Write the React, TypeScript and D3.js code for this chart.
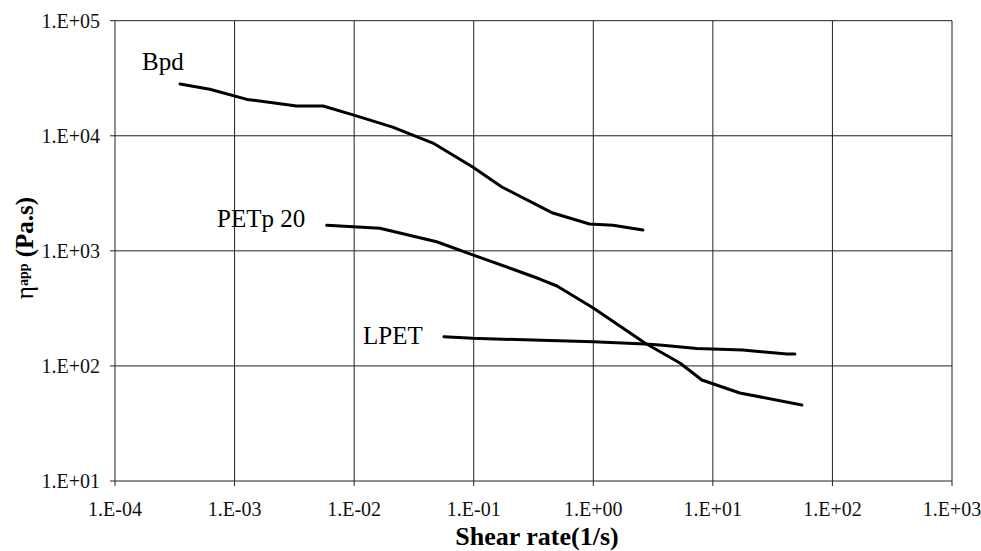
import React from "react";
import * as d3 from "d3";

const xTicks = [1e-4, 1e-3, 1e-2, 1e-1, 1e0, 1e1, 1e2, 1e3];
const xTickLabels = ["1.E-04", "1.E-03", "1.E-02", "1.E-01", "1.E+00", "1.E+01", "1.E+02", "1.E+03"];
const yTicks = [1e1, 1e2, 1e3, 1e4, 1e5];
const yTickLabels = ["1.E+01", "1.E+02", "1.E+03", "1.E+04", "1.E+05"];

const bpdX = [3.5e-4, 6.2e-4, 1.27e-3, 3.3e-3, 5.5e-3, 9.8e-3, 0.021, 0.0456, 0.098, 0.172, 0.459, 0.93, 1.46, 2.6];
const bpdY = [28200, 25400, 20700, 18150, 18150, 15200, 11900, 8650, 5350, 3590, 2130, 1710, 1667, 1518];

const petX = [5.9e-3, 0.0164, 0.049, 0.093, 0.213, 0.357, 0.497, 1.0, 2.7, 5.3, 8.1, 16.8, 55.5];
const petY = [1667, 1570, 1200, 940, 692, 569, 495, 319, 158, 106, 75.5, 58.2, 45.8];

const lpetX = [0.0564, 0.098, 0.434, 1.0, 2.7, 3.6, 7.35, 17.8, 41.6, 48.5];
const lpetY = [179.5, 174, 166, 162, 155, 152, 142, 137.5, 127, 127];

const seriesNames = ["Bpd", "PETp 20", "LPET"];

const W = 981;
const H = 551;
const left = 115;
const right = 952;
const top = 20.7;
const bottom = 481;

export default function App() {
  const x = d3.scaleLog().domain([1e-4, 1e3]).range([left, right]);
  const y = d3.scaleLog().domain([1e1, 1e5]).range([bottom, top]);
  const line = d3
    .line<[number, number]>()
    .x((d) => x(d[0]))
    .y((d) => y(d[1]))
    .curve(d3.curveLinear);

  const series = [
    { name: seriesNames[0], pts: bpdX.map((v, i) => [v, bpdY[i]] as [number, number]) },
    { name: seriesNames[1], pts: petX.map((v, i) => [v, petY[i]] as [number, number]) },
    { name: seriesNames[2], pts: lpetX.map((v, i) => [v, lpetY[i]] as [number, number]) },
  ];

  const labelPos = [
    { x: 142, y: 70 },
    { x: 217, y: 227 },
    { x: 363, y: 344 },
  ];

  const font = "'Liberation Serif', 'Times New Roman', serif";

  return (
    <svg
      width={W}
      height={H}
      style={{ position: "absolute", left: 0, top: 0, background: "#fff" }}
      fontFamily={font}
    >
      <rect x={0} y={0} width={W} height={H} fill="#fff" />
      {xTicks.map((t, i) => (
        <g key={"xg" + i}>
          <line x1={x(t)} x2={x(t)} y1={top} y2={bottom + 5} stroke="#222" strokeWidth={1} />
          <text x={x(t)} y={516} textAnchor="middle" fontSize={20} fill="#111">
            {xTickLabels[i]}
          </text>
        </g>
      ))}
      {yTicks.map((t, i) => (
        <g key={"yg" + i}>
          <line x1={left - 5} x2={right} y1={y(t)} y2={y(t)} stroke="#222" strokeWidth={1} />
          <text x={100} y={y(t)} dy="0.35em" textAnchor="end" fontSize={20} fill="#111">
            {yTickLabels[i]}
          </text>
        </g>
      ))}
      {series.map((s, i) => (
        <path key={"s" + i} d={line(s.pts) || ""} fill="none" stroke="#000" strokeWidth={3} strokeLinejoin="round" strokeLinecap="round" />
      ))}
      {series.map((s, i) => (
        <text key={"l" + i} x={labelPos[i].x} y={labelPos[i].y} fontSize={25} fill="#000">
          {s.name}
        </text>
      ))}
      <text x={537} y={545} textAnchor="middle" fontSize={26} fontWeight="bold" fill="#000">
        Shear rate(1/s)
      </text>
      <text
        transform={`translate(33, 248) rotate(-90)`}
        textAnchor="middle"
        fontSize={25}
        fontWeight="bold"
        fill="#000"
      >
        <tspan fontWeight="normal">η</tspan>
        <tspan fontSize={14} dy={-5}>app</tspan>
        <tspan dy={5}> (Pa.s)</tspan>
      </text>
    </svg>
  );
}
